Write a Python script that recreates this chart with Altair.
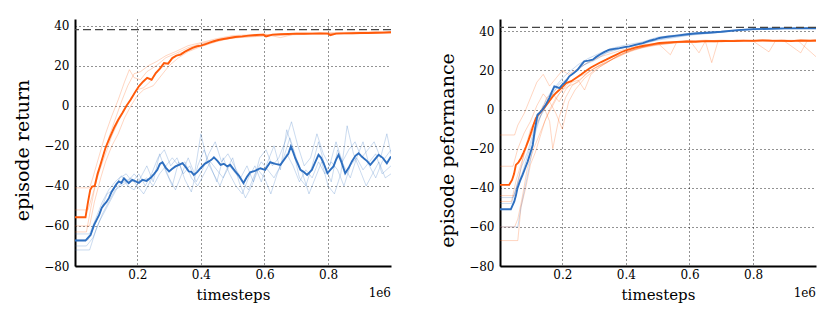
import altair as alt
import pandas as pd

# ---------------- data (x in units of 1e6 timesteps) ----------------
series_names = ["orange", "blue"]
series_colors = ["#ff5a0a", "#2e6fc0"]
x_ticks = [0.2, 0.4, 0.6, 0.8]
y_ticks = [-80, -60, -40, -20, 0, 20, 40]
left_target = [38]
right_target = [42]
offset_text = ["1e6"]

left_orange_mean = [(0.004, -55.7), (0.037, -55.7), (0.045, -48), (0.052, -42), (0.058, -40.3), (0.066, -40),
    (0.075, -34), (0.085, -29), (0.1, -21), (0.113, -16), (0.127, -11), (0.14, -7), (0.153, -3.6), (0.166, 0),
    (0.179, 3), (0.192, 6.5), (0.205, 9.7), (0.218, 12), (0.231, 13.9), (0.245, 13), (0.258, 16.3), (0.271, 18.5),
    (0.284, 21.3), (0.297, 21), (0.31, 23.8), (0.323, 25), (0.336, 25.5), (0.35, 27), (0.362, 28), (0.375, 29),
    (0.388, 29.7), (0.4, 30), (0.415, 30.8), (0.43, 31.6), (0.441, 32.2), (0.455, 32.8), (0.467, 33.2), (0.49, 33.8),
    (0.508, 34.3), (0.53, 34.6), (0.55, 35), (0.575, 35.3), (0.597, 35.5), (0.605, 34.6), (0.625, 35.5), (0.65, 35.7),
    (0.675, 35.8), (0.702, 36), (0.725, 35.9), (0.75, 36), (0.775, 36.1), (0.8, 36), (0.807, 35.2), (0.825, 36),
    (0.85, 36.1), (0.875, 36.2), (0.9, 36.3), (0.925, 36.3), (0.95, 36.4), (0.975, 36.5), (0.998, 36.7)]

left_blue_mean = [(0.004, -67.3), (0.037, -67.3), (0.053, -64.5), (0.064, -59.5), (0.072, -57), (0.08, -54.5),
    (0.088, -51), (0.095, -49.5), (0.103, -48), (0.111, -46), (0.119, -43), (0.127, -41), (0.135, -39), (0.142, -37.8),
    (0.15, -38.5), (0.158, -36.2), (0.166, -37.5), (0.173, -38.6), (0.184, -37), (0.195, -37.8), (0.205, -38.5),
    (0.216, -37), (0.229, -37.5), (0.242, -36), (0.253, -34), (0.263, -32), (0.271, -29), (0.279, -28.2), (0.29, -31),
    (0.3, -32.8), (0.31, -31.5), (0.32, -30.3), (0.331, -29.5), (0.342, -28.7), (0.352, -30.5), (0.362, -32.8),
    (0.37, -33), (0.378, -34.5), (0.389, -33), (0.399, -31.2), (0.412, -29), (0.425, -27.8), (0.433, -27), (0.441, -25.8),
    (0.452, -27.5), (0.462, -29.5), (0.472, -29), (0.483, -30.3), (0.492, -29.5), (0.508, -32.8), (0.52, -35),
    (0.534, -38.6), (0.545, -35.5), (0.555, -33.2), (0.57, -32.5), (0.587, -31.2), (0.602, -32), (0.618, -28.2),
    (0.634, -29), (0.65, -29.5), (0.665, -26.2), (0.675, -24), (0.683, -20.3), (0.69, -23), (0.697, -26.2), (0.705, -29),
    (0.713, -32), (0.723, -33), (0.734, -34.5), (0.749, -32), (0.76, -28), (0.77, -24.5), (0.778, -26), (0.786, -28.7),
    (0.798, -33.7), (0.807, -32), (0.817, -30.3), (0.825, -27), (0.833, -24.5), (0.843, -28.5), (0.854, -33.7),
    (0.865, -31), (0.875, -27.8), (0.886, -25), (0.896, -23.7), (0.904, -25), (0.912, -26.2), (0.922, -27.5),
    (0.933, -29.5), (0.946, -27), (0.959, -24.5), (0.972, -26), (0.985, -28.7), (0.998, -25.3)]

left_orange_runs = [
    [(0.004, -41), (0.05, -41), (0.06, -36), (0.08, -25), (0.1, -14), (0.12, -5), (0.14, 3), (0.16, 12), (0.175, 18),
     (0.19, 14), (0.21, 13), (0.23, 17), (0.26, 20), (0.29, 24), (0.32, 26), (0.36, 29), (0.4, 31), (0.45, 33),
     (0.5, 34.5), (0.6, 35.5), (0.7, 36), (0.8, 36), (0.9, 36.5), (0.998, 36.8)],
    [(0.004, -52), (0.045, -52), (0.06, -44), (0.08, -33), (0.1, -24), (0.12, -15), (0.14, -8), (0.16, -2), (0.18, 4),
     (0.2, 8), (0.22, 9), (0.24, 12), (0.27, 18), (0.3, 22), (0.33, 26), (0.37, 28), (0.41, 31), (0.46, 33), (0.52, 34),
     (0.6, 34.8), (0.7, 35.5), (0.8, 35.8), (0.9, 36), (0.998, 36.3)],
    [(0.004, -60), (0.05, -60), (0.065, -48), (0.085, -36), (0.1, -28), (0.12, -20), (0.14, -14), (0.16, -6), (0.18, 0),
     (0.2, 5), (0.22, 8), (0.25, 10), (0.27, 14), (0.3, 20), (0.33, 24), (0.36, 27), (0.4, 29.5), (0.45, 32), (0.5, 34),
     (0.6, 35), (0.7, 36.3), (0.8, 36.2), (0.9, 36), (0.998, 36.5)],
    [(0.004, -63), (0.04, -63), (0.055, -50), (0.07, -38), (0.09, -26), (0.11, -16), (0.13, -7), (0.15, 2), (0.17, 10),
     (0.19, 16), (0.21, 17), (0.235, 20), (0.26, 22), (0.29, 25), (0.32, 27), (0.36, 30), (0.4, 31.5), (0.45, 33.5),
     (0.5, 35), (0.6, 35.8), (0.65, 34), (0.7, 36), (0.8, 36.4), (0.9, 36.8), (0.998, 37)],
]

left_blue_runs = [
    [(0.004, -64), (0.05, -64), (0.07, -56), (0.09, -48), (0.11, -42), (0.13, -38), (0.15, -35), (0.17, -40), (0.19, -42),
     (0.21, -36), (0.23, -30), (0.25, -38), (0.27, -24), (0.29, -33), (0.31, -40), (0.33, -28), (0.35, -37), (0.37, -43),
     (0.39, -30), (0.41, -22), (0.43, -30), (0.45, -38), (0.47, -26), (0.49, -34), (0.51, -40), (0.53, -44), (0.55, -36),
     (0.57, -30), (0.59, -38), (0.61, -28), (0.63, -20), (0.65, -32), (0.67, -12), (0.69, -22), (0.71, -36), (0.73, -40),
     (0.75, -30), (0.77, -18), (0.79, -30), (0.81, -38), (0.83, -22), (0.85, -30), (0.87, -36), (0.89, -26), (0.91, -18),
     (0.93, -30), (0.95, -36), (0.97, -28), (0.998, -22)],
    [(0.004, -70), (0.04, -70), (0.06, -66), (0.08, -58), (0.1, -52), (0.12, -46), (0.14, -40), (0.16, -38), (0.18, -36),
     (0.2, -40), (0.22, -44), (0.24, -38), (0.26, -32), (0.28, -28), (0.3, -36), (0.32, -42), (0.34, -34), (0.36, -26),
     (0.38, -34), (0.4, -14), (0.42, -28), (0.44, -34), (0.46, -40), (0.48, -32), (0.5, -26), (0.52, -38), (0.54, -46),
     (0.56, -40), (0.58, -32), (0.6, -36), (0.62, -44), (0.64, -34), (0.66, -26), (0.68, -16), (0.7, -26), (0.72, -34),
     (0.74, -44), (0.76, -36), (0.78, -28), (0.8, -40), (0.82, -44), (0.84, -34), (0.86, -10), (0.88, -24), (0.9, -32),
     (0.92, -40), (0.94, -34), (0.96, -28), (0.98, -36), (0.998, -34)],
    [(0.004, -67), (0.045, -67), (0.065, -60), (0.085, -52), (0.105, -44), (0.125, -42), (0.145, -36), (0.165, -34),
     (0.185, -38), (0.205, -34), (0.225, -40), (0.245, -34), (0.265, -26), (0.285, -22), (0.305, -30), (0.325, -26),
     (0.345, -34), (0.365, -30), (0.385, -38), (0.405, -32), (0.425, -24), (0.445, -18), (0.465, -28), (0.485, -24),
     (0.505, -30), (0.525, -36), (0.545, -30), (0.565, -38), (0.585, -26), (0.605, -22), (0.625, -30), (0.645, -26),
     (0.665, -18), (0.685, -8), (0.705, -20), (0.725, -30), (0.745, -26), (0.765, -14), (0.785, -24), (0.805, -30),
     (0.825, -18), (0.845, -28), (0.865, -22), (0.885, -18), (0.905, -26), (0.925, -22), (0.945, -18), (0.965, -26),
     (0.985, -14), (0.998, -24)],
    [(0.004, -72), (0.05, -72), (0.07, -62), (0.09, -54), (0.11, -48), (0.13, -42), (0.15, -40), (0.17, -38), (0.19, -34),
     (0.21, -38), (0.23, -36), (0.25, -40), (0.27, -34), (0.29, -30), (0.31, -26), (0.33, -30), (0.35, -28), (0.37, -36),
     (0.39, -40), (0.41, -34), (0.43, -28), (0.45, -32), (0.47, -36), (0.49, -30), (0.51, -34), (0.53, -38), (0.55, -42),
     (0.57, -34), (0.59, -28), (0.61, -32), (0.63, -36), (0.65, -30), (0.67, -24), (0.69, -30), (0.71, -38), (0.73, -32),
     (0.75, -36), (0.77, -28), (0.79, -34), (0.81, -28), (0.83, -32), (0.85, -40), (0.87, -30), (0.89, -26), (0.91, -32),
     (0.93, -28), (0.95, -24), (0.97, -34), (0.998, -30)],
]

right_orange_mean = [(0.004, -38.5), (0.033, -38.5), (0.042, -36), (0.048, -33), (0.054, -28.3), (0.062, -27),
    (0.07, -24.9), (0.078, -22), (0.086, -18.9), (0.094, -15.5), (0.101, -12.1), (0.109, -8), (0.117, -4.4),
    (0.125, -2.5), (0.133, -1), (0.141, 0.5), (0.149, 2.1), (0.16, 4.5), (0.17, 6.7), (0.18, 8.5), (0.191, 10.1),
    (0.2, 11.5), (0.212, 13.5), (0.228, 14.5), (0.243, 16.1), (0.26, 18), (0.275, 19.8), (0.29, 21.5), (0.306, 22.9),
    (0.322, 24.3), (0.338, 25.5), (0.354, 26.8), (0.369, 28), (0.385, 29.3), (0.4, 30.3), (0.416, 31), (0.432, 31.8),
    (0.453, 32.5), (0.474, 33.1), (0.49, 33.6), (0.505, 34), (0.53, 34.3), (0.56, 34.6), (0.59, 34.8), (0.62, 34.7),
    (0.65, 35), (0.68, 34.9), (0.71, 35.1), (0.74, 35), (0.77, 35.2), (0.8, 35.1), (0.83, 35.3), (0.86, 35.1),
    (0.89, 35.2), (0.92, 35), (0.95, 35.3), (0.98, 35.2), (0.998, 35.3)]

right_blue_mean = [(0.004, -51), (0.038, -51), (0.049, -47), (0.054, -44), (0.059, -40.2), (0.067, -36.5),
    (0.075, -33.4), (0.083, -30), (0.091, -26.6), (0.099, -22.5), (0.107, -18.1), (0.114, -10), (0.122, -2.7),
    (0.13, -1.5), (0.138, 0), (0.148, 2.5), (0.159, 5.8), (0.167, 9), (0.175, 11.8), (0.183, 11.5), (0.191, 11),
    (0.199, 12.5), (0.206, 13.5), (0.214, 15), (0.222, 17), (0.235, 18.5), (0.248, 20.3), (0.258, 22.5), (0.269, 24.6),
    (0.282, 25), (0.296, 25.5), (0.306, 26.8), (0.317, 28), (0.333, 29.5), (0.348, 30.6), (0.364, 31), (0.38, 31.4),
    (0.395, 31.9), (0.411, 32.3), (0.432, 33.2), (0.453, 34), (0.475, 35.2), (0.49, 35.8), (0.505, 36.6), (0.53, 37.2),
    (0.56, 37.8), (0.594, 38.5), (0.625, 39), (0.657, 39.3), (0.7, 39.8), (0.75, 40.6), (0.8, 41.1), (0.85, 41.3),
    (0.9, 41.5), (0.95, 41.6), (0.998, 41.6)]

right_orange_runs = [
    [(0.004, -13), (0.05, -13), (0.06, -8), (0.08, -2), (0.1, 6), (0.12, 14), (0.14, 18), (0.16, 12), (0.18, 16),
     (0.2, 20), (0.22, 18), (0.25, 21), (0.28, 24), (0.32, 27), (0.36, 29), (0.4, 31), (0.45, 33), (0.5, 34), (0.54, 28),
     (0.56, 34.5), (0.6, 35), (0.65, 35.5), (0.7, 35), (0.75, 35.5), (0.8, 35.2), (0.85, 35.8), (0.9, 35), (0.95, 35.5),
     (0.998, 35.2)],
    [(0.004, -29), (0.045, -29), (0.06, -20), (0.08, -12), (0.1, -6), (0.12, 2), (0.14, 8), (0.16, 4), (0.18, -2),
     (0.2, -10), (0.22, 4), (0.24, 10), (0.27, 16), (0.3, 20), (0.33, 23), (0.37, 27), (0.41, 30), (0.46, 32), (0.5, 33.5),
     (0.55, 34), (0.6, 35.5), (0.63, 29), (0.65, 35), (0.7, 34.5), (0.75, 35.6), (0.8, 35), (0.85, 29.5), (0.87, 35),
     (0.9, 35.4), (0.95, 35), (0.998, 35.5)],
    [(0.004, -44), (0.05, -44), (0.065, -34), (0.08, -22), (0.1, -10), (0.12, -4), (0.14, 2), (0.16, -6), (0.17, -20),
     (0.19, -4), (0.21, 6), (0.23, 12), (0.26, 16), (0.29, 20), (0.32, 23), (0.36, 26), (0.4, 29.5), (0.45, 32),
     (0.5, 33.5), (0.55, 34.5), (0.6, 35), (0.65, 34.8), (0.67, 24), (0.69, 35), (0.75, 35.2), (0.8, 35), (0.85, 35.5),
     (0.9, 34.8), (0.95, 29), (0.97, 35), (0.998, 34.8)],
    [(0.004, -47), (0.04, -47), (0.055, -36), (0.07, -28), (0.09, -18), (0.11, -10), (0.13, -4), (0.15, 6), (0.17, 8),
     (0.19, 4), (0.21, 10), (0.23, 14), (0.25, 15), (0.27, 10), (0.29, 18), (0.32, 22), (0.36, 26), (0.4, 29),
     (0.45, 31.5), (0.5, 33), (0.55, 34), (0.6, 34.5), (0.7, 35), (0.8, 35.4), (0.9, 35.2), (0.998, 35)],
    [(0.004, -60), (0.05, -60), (0.06, -56), (0.075, -44), (0.09, -30), (0.11, -20), (0.13, -12), (0.15, -4), (0.17, 2),
     (0.19, 8), (0.21, 12), (0.24, 16), (0.27, 18), (0.3, 21), (0.34, 24), (0.38, 28), (0.42, 30.5), (0.47, 32.5),
     (0.52, 33.5), (0.58, 34.5), (0.64, 35), (0.7, 35.5), (0.76, 35.2), (0.82, 35.6), (0.88, 35), (0.94, 35.4),
     (0.998, 27)],
    [(0.004, -67), (0.06, -67), (0.07, -50), (0.085, -40), (0.1, -28), (0.115, -22), (0.13, -14), (0.145, -6), (0.16, 0),
     (0.18, 6), (0.2, 10), (0.22, 12), (0.25, 14), (0.28, 19), (0.31, 22), (0.35, 25), (0.39, 28), (0.43, 31), (0.48, 33),
     (0.53, 34), (0.6, 34.8), (0.66, 35.3), (0.72, 34.9), (0.78, 35.4), (0.84, 35.2), (0.9, 35.5), (0.96, 35.3),
     (0.998, 35.4)],
]

right_blue_runs = [
    [(0.004, -60), (0.06, -60), (0.07, -50), (0.085, -38), (0.1, -26), (0.115, -12), (0.13, -4), (0.15, 2), (0.17, 8),
     (0.19, 13), (0.21, 15), (0.23, 18), (0.26, 22), (0.3, 26), (0.35, 30), (0.4, 32), (0.45, 33.5), (0.5, 35.5),
     (0.6, 38), (0.7, 39.5), (0.8, 41), (0.9, 41.4), (0.998, 41.5)],
    [(0.004, -48), (0.04, -48), (0.055, -40), (0.07, -30), (0.09, -22), (0.105, -14), (0.12, -6), (0.14, 2), (0.16, 8),
     (0.18, 12), (0.2, 16), (0.22, 19), (0.25, 23), (0.28, 26), (0.32, 29), (0.36, 31.5), (0.4, 33), (0.45, 34.5),
     (0.5, 37), (0.6, 39), (0.7, 40), (0.8, 41.2), (0.9, 41.6), (0.998, 41.7)],
    [(0.004, -45), (0.045, -45), (0.06, -38), (0.075, -32), (0.09, -24), (0.105, -16), (0.12, -8), (0.135, -2),
     (0.155, 4), (0.175, 10), (0.195, 12), (0.215, 16), (0.24, 19), (0.27, 23), (0.3, 25), (0.34, 29), (0.38, 31),
     (0.42, 32.5), (0.47, 34.5), (0.52, 36.5), (0.6, 38.2), (0.7, 39.6), (0.8, 40.8), (0.9, 41.3), (0.998, 41.5)],
]


# ---------------- helpers ----------------
def runs_frame(orange_runs, blue_runs):
    rows = []
    for name, runs in (("orange", orange_runs), ("blue", blue_runs)):
        for i, run in enumerate(runs):
            for x, y in run:
                rows.append({"series": name, "run": f"{name}{i}", "x": x, "y": y})
    return pd.DataFrame(rows)


def mean_frame(orange_mean, blue_mean):
    rows = []
    for name, pts in (("orange", orange_mean), ("blue", blue_mean)):
        for x, y in pts:
            rows.append({"series": name, "x": x, "y": y})
    return pd.DataFrame(rows)


W, H = 316, 247
FONT = "DejaVu Serif"
color_scale = alt.Scale(domain=series_names, range=series_colors)


def panel(orange_mean, blue_mean, orange_runs, blue_runs, ytop, target, ytitle):
    x_enc = alt.X("x:Q", scale=alt.Scale(domain=[0.004, 0.998], nice=False, zero=False),
                  axis=alt.Axis(values=x_ticks, format=".1f", title="timesteps", titleFontSize=15,
                                titlePadding=7, labelPadding=3))
    y_enc = alt.Y("y:Q", scale=alt.Scale(domain=[-80, ytop], nice=False, zero=False),
                  axis=alt.Axis(values=y_ticks, title=ytitle, titleFontSize=19, titlePadding=11,
                                titleY=131, labelPadding=6,
                                labelExpr="replace(datum.label, '-', '\u2212')"))
    col = alt.Color("series:N", scale=color_scale, legend=None)

    faint = alt.Chart(runs_frame(orange_runs, blue_runs)).mark_line(
        strokeWidth=1, opacity=0.25, clip=True).encode(x=x_enc, y=y_enc, color=col, detail="run:N")
    mean_df = mean_frame(orange_mean, blue_mean)
    orange_line = alt.Chart(mean_df).transform_filter(alt.datum.series == "orange").mark_line(
        strokeWidth=1.9, clip=True).encode(x=x_enc, y=y_enc, color=col)
    blue_line = alt.Chart(mean_df).transform_filter(alt.datum.series == "blue").mark_line(
        strokeWidth=1.9, clip=True).encode(x=x_enc, y=y_enc, color=col)
    rule = alt.Chart(pd.DataFrame({"y": target})).mark_rule(
        strokeDash=[8, 4], color="#444444", strokeWidth=1.1).encode(y="y:Q")
    txt = alt.Chart(pd.DataFrame({"t": offset_text})).mark_text(
        align="right", baseline="middle", font=FONT, fontSize=12, color="black").encode(
        x=alt.value(W), y=alt.value(H + 27), text="t:N")
    return alt.layer(faint, orange_line, blue_line, rule, txt).properties(width=W, height=H)


left = panel(left_orange_mean, left_blue_mean, left_orange_runs, left_blue_runs, 43.3, left_target, "episode return")
right = panel(right_orange_mean, right_blue_mean, right_orange_runs, right_blue_runs, 46.3, right_target,
              "episode peformance")

chart = alt.hconcat(left, right, spacing=46).properties(
    padding={"left": 5, "top": 11, "right": 5, "bottom": 5}
).configure_view(stroke=None).configure_axis(
    labelFont=FONT, labelFontSize=12, labelColor="black",
    titleFont=FONT, titleFontWeight="normal", titleColor="black",
    domainColor="black", domainWidth=2, ticks=False,
    grid=True, gridColor="black", gridDash=[1, 3], gridOpacity=0.85, gridWidth=1,
).configure_axisX(domain=True).configure_axisY(domain=True)

chart.save("out.html", embed_options={"renderer": "svg", "actions": False})
